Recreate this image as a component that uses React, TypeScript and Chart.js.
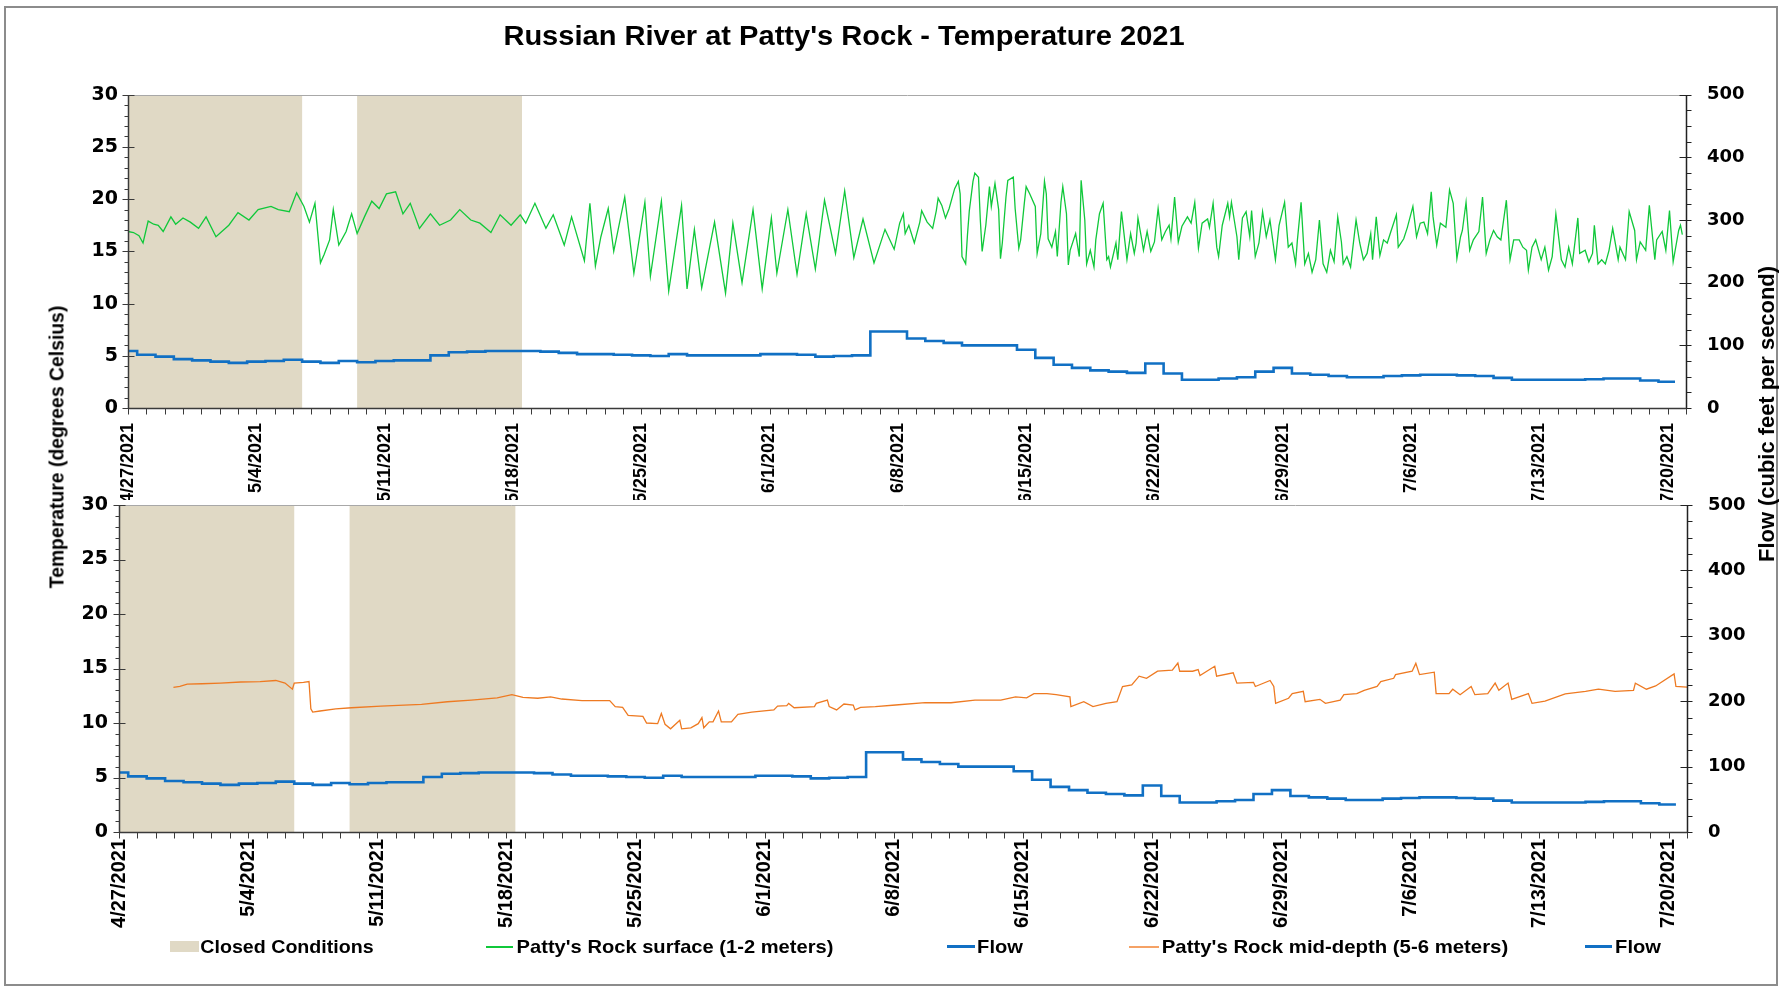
import React, { useEffect, useLayoutEffect, useRef, useState } from 'react';
import { Chart, registerables } from 'chart.js';

Chart.register(...registerables);

const W = 1792;
const H = 989;

// ---------- DATA (x = days since 4/27/2021 00:00) ----------
const xTickDays = [0, 7, 14, 21, 28, 35, 42, 49, 56, 63, 70, 77, 84];
const xTickLabels = ['4/27/2021', '5/4/2021', '5/11/2021', '5/18/2021', '5/25/2021', '6/1/2021', '6/8/2021', '6/15/2021', '6/22/2021', '6/29/2021', '7/6/2021', '7/13/2021', '7/20/2021'];
const xMaxDay = 85;

const tempMin = 0;
const tempMax = 30;
const tempStep = 5;
const flowMin = 0;
const flowMax = 500;
const flowStep = 100;

const closedStartDays = [0, 12.5];
const closedEndDays = [9.5, 21.5];

// Patty's Rock surface (1-2 meters), [day, degC]
const surfaceReadings: [number, number][] = [
  [0, 16.9], [0.3, 16.8], [0.6, 16.5], [0.82, 15.8], [1.1, 17.9], [1.4, 17.6], [1.65, 17.5], [1.92, 16.9], [2.34, 18.3], [2.6, 17.6],
  [3.0, 18.2], [3.4, 17.8], [3.85, 17.2], [4.26, 18.3], [4.8, 16.4], [5.5, 17.5], [6.0, 18.7], [6.6, 18.0], [7.1, 19.0], [7.8, 19.3],
  [8.2, 19.0], [8.8, 18.8], [9.2, 20.6], [9.6, 19.3], [9.9, 17.8], [10.2, 19.6], [10.5, 13.9], [10.7, 14.7], [11.0, 16.1], [11.2, 19.0],
  [11.5, 15.6], [11.9, 16.9], [12.2, 18.6], [12.5, 16.7], [12.9, 18.3], [13.3, 19.8], [13.7, 19.1], [14.1, 20.5], [14.6, 20.7], [15.0, 18.6],
  [15.4, 19.6], [15.9, 17.2], [16.5, 18.6], [17.0, 17.5], [17.6, 18.0], [18.1, 19.0], [18.7, 18.0], [19.2, 17.7], [19.8, 16.8], [20.3, 18.5],
  [20.9, 17.5], [21.4, 18.5], [21.7, 17.7], [22.2, 19.6], [22.8, 17.2], [23.2, 18.5], [23.8, 15.6], [24.2, 18.3], [24.9, 14.1], [25.2, 19.6],
  [25.5, 13.6], [25.8, 16.4], [26.2, 19.1], [26.5, 15.0], [27.1, 20.2], [27.6, 12.9], [28.2, 19.7], [28.5, 12.6], [29.1, 19.8], [29.5, 11.2],
  [30.2, 19.4], [30.5, 11.4], [30.9, 17.1], [31.3, 11.5], [32.0, 17.8], [32.6, 11.0], [33.0, 17.7], [33.5, 12.0], [34.1, 19.0], [34.6, 11.4],
  [35.1, 18.2], [35.4, 12.9], [36.0, 19.0], [36.5, 12.8], [37.0, 18.6], [37.5, 13.3], [38.0, 19.9], [38.6, 14.8], [39.1, 20.8], [39.6, 14.4],
  [40.1, 18.1], [40.7, 13.9], [41.3, 17.1], [41.8, 15.2],
  [42.1, 17.7], [42.3, 18.6], [42.4, 16.7], [42.6, 17.5], [42.9, 15.8], [43.2, 17.8], [43.3, 18.9], [43.6, 17.8], [43.9, 17.2], [44.1, 18.9],
  [44.2, 20.1], [44.4, 19.4], [44.6, 18.2], [44.8, 19.1], [45.1, 21.0], [45.3, 21.7], [45.4, 20.5], [45.5, 14.5], [45.7, 13.8], [45.8, 16.6],
  [45.9, 18.9], [46.1, 21.7], [46.2, 22.5], [46.4, 22.1], [46.5, 18.0], [46.6, 15.0], [46.8, 17.5], [47.0, 21.2], [47.1, 19.3], [47.3, 21.5],
  [47.5, 19.0], [47.6, 14.3], [47.7, 15.8], [47.9, 20.2], [48.0, 21.8], [48.3, 22.1], [48.4, 19.1], [48.6, 15.3], [48.7, 16.1], [48.9, 19.6],
  [49.0, 21.2], [49.2, 20.5], [49.5, 19.3], [49.6, 14.8], [49.8, 16.7], [50.0, 21.7], [50.1, 20.5], [50.2, 16.2], [50.4, 15.4], [50.6, 16.9],
  [50.7, 14.5], [50.9, 19.7], [51.0, 21.2], [51.2, 18.6], [51.3, 13.7], [51.4, 15.1], [51.7, 16.7], [51.9, 14.5], [52.0, 21.8], [52.2, 18.0],
  [52.3, 13.8], [52.5, 15.1], [52.7, 13.5], [52.8, 16.1], [53.0, 18.6], [53.2, 19.6], [53.4, 14.2], [53.5, 14.5], [53.6, 13.5], [53.9, 15.8],
  [54.0, 14.2], [54.2, 18.8], [54.3, 17.3], [54.5, 14.2], [54.7, 16.7], [54.9, 14.8], [55.0, 15.8], [55.1, 18.2], [55.3, 16.2], [55.4, 15.1],
  [55.6, 16.9], [55.8, 15.0], [56.0, 15.9], [56.2, 19.1], [56.4, 16.1], [56.6, 16.9], [56.8, 17.5], [56.9, 16.2], [57.1, 20.2], [57.3, 15.9],
  [57.5, 17.4], [57.8, 18.3], [58.0, 17.7], [58.2, 19.7], [58.4, 15.3], [58.6, 17.7], [58.9, 18.1], [59.0, 17.3], [59.2, 19.6], [59.4, 15.4],
  [59.5, 14.5], [59.7, 17.5], [60.0, 19.6], [60.1, 18.3], [60.2, 19.7], [60.5, 16.4], [60.6, 14.2], [60.8, 18.2], [61.0, 18.8], [61.2, 16.4],
  [61.3, 18.9], [61.5, 14.5], [61.7, 15.8], [61.9, 18.8], [62.1, 16.4], [62.3, 18.0], [62.6, 14.2], [62.8, 17.5], [63.1, 19.7], [63.3, 15.4],
  [63.5, 15.8], [63.7, 13.8], [63.8, 16.1], [64.0, 19.7], [64.2, 13.8], [64.4, 14.8], [64.6, 13.0], [64.8, 14.2], [65.0, 18.0], [65.2, 13.8],
  [65.4, 13.0], [65.6, 15.1], [65.8, 14.0], [66.0, 18.3], [66.2, 15.9], [66.3, 13.8], [66.5, 14.5], [66.7, 13.5], [67.0, 18.0], [67.2, 15.8],
  [67.4, 14.2], [67.6, 14.8], [67.8, 16.7], [67.9, 14.2], [68.1, 18.3], [68.3, 14.6], [68.5, 16.1], [68.7, 15.8], [68.9, 16.9], [69.2, 18.5],
  [69.3, 15.4], [69.6, 16.2], [69.8, 17.3], [70.1, 19.3], [70.3, 16.4], [70.5, 17.7], [70.7, 17.8], [70.9, 16.7], [71.1, 20.7], [71.2, 18.3],
  [71.4, 15.6], [71.6, 17.7], [71.9, 17.3], [72.1, 20.9], [72.3, 19.6], [72.5, 14.3], [72.7, 16.4], [72.8, 17.0], [73.0, 19.7], [73.2, 15.1],
  [73.4, 16.1], [73.7, 16.9], [73.9, 20.2], [74.1, 14.8], [74.3, 16.1], [74.5, 17.0], [74.7, 16.4], [74.9, 16.1], [75.2, 19.9], [75.4, 14.2],
  [75.6, 16.1], [75.9, 16.1], [76.1, 15.4], [76.3, 15.1], [76.4, 13.2], [76.6, 15.4], [76.8, 16.1], [77.1, 14.2], [77.3, 15.4], [77.5, 13.2],
  [77.7, 14.5], [77.9, 18.6], [78.2, 14.2], [78.4, 13.5], [78.6, 15.4], [78.8, 13.8], [79.1, 18.2], [79.2, 14.8], [79.5, 15.1], [79.7, 14.0],
  [79.9, 14.8], [80.0, 17.5], [80.2, 13.8], [80.4, 14.2], [80.6, 13.8], [80.8, 15.1], [81.0, 17.2], [81.3, 14.2], [81.4, 15.4], [81.7, 14.2],
  [81.9, 18.8], [82.2, 17.0], [82.3, 14.2], [82.5, 15.9], [82.8, 15.1], [83.0, 19.4], [83.3, 14.2], [83.4, 16.1], [83.7, 16.9], [83.9, 15.1],
  [84.1, 18.9], [84.3, 14.0], [84.6, 17.0], [84.7, 17.5], [84.8, 16.6],
];

// Patty's Rock mid-depth (5-6 meters), [day, degC]
const midDepthReadings: [number, number][] = [
  [2.95, 13.26], [3.3, 13.35], [3.7, 13.57], [4.5, 13.6], [5.5, 13.66], [6.6, 13.76], [7.65, 13.79], [8.5, 13.9], [9.0, 13.66], [9.4, 13.1],
  [9.5, 13.66], [10.0, 13.73], [10.3, 13.8], [10.4, 11.3], [10.5, 11.0], [10.9, 11.1], [11.75, 11.3], [12.6, 11.4], [14.2, 11.55], [16.4, 11.7],
  [17.8, 11.95], [19.1, 12.1], [20.5, 12.3], [21.3, 12.6], [21.9, 12.36], [22.7, 12.27], [23.4, 12.4], [24.0, 12.2], [25.1, 12.05], [26.6, 12.05],
  [26.9, 11.5], [27.3, 11.43], [27.6, 10.7], [28.4, 10.6], [28.6, 10.0], [29.2, 9.94], [29.4, 10.87], [29.6, 9.88], [29.9, 9.47], [30.4, 10.25],
  [30.5, 9.47], [31.0, 9.56], [31.4, 9.94], [31.6, 10.5], [31.7, 9.56], [32.0, 10.1], [32.2, 10.1], [32.5, 11.1], [32.65, 10.1], [33.2, 10.1],
  [33.55, 10.8], [34.3, 11.0], [35.5, 11.2], [35.7, 11.55], [36.2, 11.6], [36.3, 11.8], [36.6, 11.4], [37.7, 11.5], [37.8, 11.8], [38.4, 12.1],
  [38.5, 11.5], [38.9, 11.2], [39.3, 11.74], [39.8, 11.65], [39.9, 11.2], [40.2, 11.43], [41.0, 11.5], [42.1, 11.65], [43.7, 11.86], [45.1, 11.86],
  [46.4, 12.1], [47.8, 12.1], [48.6, 12.4], [49.2, 12.3], [49.6, 12.7], [50.3, 12.7], [50.8, 12.6], [51.55, 12.4], [51.6, 11.5], [52.3, 11.96],
  [52.8, 11.5], [53.5, 11.8], [54.1, 11.96], [54.4, 13.35], [54.9, 13.5], [55.3, 14.3], [55.7, 14.1], [56.3, 14.75], [57.1, 14.85], [57.4, 15.5],
  [57.5, 14.75], [58.2, 14.75], [58.5, 14.9], [58.6, 14.35], [59.4, 15.2], [59.5, 14.3], [60.4, 14.6], [60.6, 13.66], [61.5, 13.73], [61.6, 13.35],
  [62.4, 13.9], [62.6, 13.35], [62.7, 11.8], [63.4, 12.27], [63.6, 12.7], [64.2, 12.9], [64.3, 11.96], [65.1, 12.17], [65.4, 11.8], [66.2, 12.1],
  [66.4, 12.6], [67.1, 12.7], [67.5, 13.0], [68.2, 13.35], [68.4, 13.8], [69.1, 14.1], [69.2, 14.44], [70.1, 14.75], [70.3, 15.47], [70.5, 14.44],
  [71.3, 14.66], [71.4, 12.7], [72.1, 12.7], [72.3, 13.1], [72.7, 12.6], [73.3, 13.35], [73.5, 12.6], [74.2, 12.7], [74.6, 13.66], [74.8, 13.0],
  [75.3, 13.66], [75.5, 12.17], [76.4, 12.7], [76.6, 11.8], [77.3, 12.0], [78.4, 12.67], [79.5, 12.9], [80.2, 13.1], [81.1, 12.9], [82.1, 13.0],
  [82.2, 13.66], [82.8, 13.1], [83.3, 13.4], [84.3, 14.5], [84.4, 13.35], [85.0, 13.3],
];

// Daily flow (cfs), one value per day starting 4/27/2021
const flowDaily = [
  91, 85, 82, 78, 76, 74, 72, 74, 75, 77,
  74, 72, 75, 73, 75, 76, 76, 84, 89, 90,
  91, 91, 91, 90, 88, 86, 86, 85, 84, 83,
  86, 84, 84, 84, 84, 86, 86, 85, 82, 83,
  84, 122, 122, 111, 107, 104, 100, 100, 100, 93,
  80, 69, 64, 60, 58, 56, 71, 55, 45, 45,
  47, 49, 58, 64, 55, 53, 51, 49, 49, 51,
  52, 53, 53, 52, 51, 48, 45, 45, 45, 45,
  46, 47, 47, 44, 42,
];
const flowLastReadingDay = 84.4;

// ---------- STYLE ----------
const SHADE = 'rgb(224,217,197)';
const GREEN = '#10C83A';
const ORANGE = '#EE7A22';
const BLUE = '#1170C4';
const AXIS = '#3a3a3a';

type Panel = {
  left: number; right: number; top: number; bottom: number; xBoxBottom: number;
  labelSize: number; labelPad: number; leftPad: number;
  series: [number, number][]; color: string; label: string;
};

const topPanel: Panel = {
  left: 128, right: 1686, top: 94.7, bottom: 408, xBoxBottom: 500,
  labelSize: 18, labelPad: 15, leftPad: 10,
  series: surfaceReadings, color: GREEN, label: "Patty's Rock surface (1-2 meters)",
};
const bottomPanel: Panel = {
  left: 119, right: 1687, top: 505, bottom: 832, xBoxBottom: 989,
  labelSize: 20, labelPad: 7, leftPad: 11,
  series: midDepthReadings, color: ORANGE, label: "Patty's Rock mid-depth (5-6 meters)",
};

const axesPlugin = {
  id: 'axesPlugin',
  afterDraw(chart: any) {
    const { ctx, chartArea: a, scales } = chart;
    const xs = scales.x, ys = scales.y, y1s = scales.y1;
    const snap = (v: number) => Math.round(v) + 0.5;
    const seg = (x1: number, y1: number, x2: number, y2: number, color: string, w: number) => {
      ctx.beginPath();
      ctx.strokeStyle = color;
      ctx.lineWidth = w;
      ctx.moveTo(x1, y1);
      ctx.lineTo(x2, y2);
      ctx.stroke();
    };
    ctx.save();
    const L = snap(a.left), R = snap(a.right), T = snap(a.top), B = snap(a.bottom);
    // plot area top border
    seg(L, T, R, T, '#a8a8a8', 1);
    // left axis + ticks
    seg(L, T - 0.5, L, B + 0.5, AXIS, 1.5);
    for (let v = tempMin; v <= tempMax; v += 1) {
      const py = snap(ys.getPixelForValue(v));
      const major = v % tempStep === 0;
      seg(L - (major ? 6 : 4), py, L + (major ? 6 : 0), py, AXIS, 1);
    }
    // right axis + ticks
    seg(R, T - 0.5, R, B + 0.5, '#222', 1.5);
    for (let v = flowMin; v <= flowMax; v += 25) {
      const py = snap(y1s.getPixelForValue(v));
      const major = v % flowStep === 0;
      seg(R - (major ? 7 : 0), py, R + 5, py, '#222', 1);
    }
    // bottom axis + daily ticks
    seg(L, B, R, B, AXIS, 1.5);
    for (let d = 0; d <= xMaxDay; d += 1) {
      const px = snap(xs.getPixelForValue(d));
      seg(px, B, px, B + 6, AXIS, 1);
    }
    ctx.restore();
  },
};

function buildConfig(p: Panel): any {
  const shade: { x: number; y: number }[] = [];
  closedStartDays.forEach((s, i) => {
    const e = closedEndDays[i];
    shade.push({ x: s, y: tempMin }, { x: s, y: tempMax }, { x: e, y: tempMax }, { x: e, y: tempMin });
  });
  const flowPts = flowDaily.map((v, i) => ({ x: i, y: v }));
  flowPts.push({ x: flowLastReadingDay, y: flowDaily[flowDaily.length - 1] });
  const tempPts = p.series.map(([d, t]) => ({ x: d, y: t }));

  return {
    type: 'line',
    data: {
      datasets: [
        { label: 'Closed Conditions', data: shade, yAxisID: 'y', borderWidth: 0, borderColor: 'rgba(0,0,0,0)', backgroundColor: SHADE, fill: 'origin', pointRadius: 0, order: 10 },
        { label: p.label, data: tempPts, yAxisID: 'y', borderColor: p.color, borderWidth: 1.3, pointRadius: 0, fill: false, order: 2 },
        { label: 'Flow', data: flowPts, yAxisID: 'y1', borderColor: BLUE, borderWidth: 2.6, pointRadius: 0, fill: false, stepped: 'middle', order: 1 },
      ],
    },
    options: {
      responsive: false,
      animation: false,
      events: [],
      layout: { padding: { left: 0, right: 0, top: p.top, bottom: H - p.xBoxBottom } },
      plugins: { legend: { display: false }, tooltip: { enabled: false }, title: { display: false } },
      scales: {
        x: {
          type: 'linear', position: 'bottom', min: 0, max: xMaxDay,
          grid: { display: false, drawTicks: false }, border: { display: false },
          afterBuildTicks: (s: any) => { s.ticks = xTickDays.map((v) => ({ value: v })); },
          afterFit: (s: any) => { s.height = p.xBoxBottom - p.bottom; },
          ticks: {
            autoSkip: false, minRotation: 90, maxRotation: 90, padding: p.labelPad, color: '#000',
            font: { family: "'Liberation Sans', Arial, sans-serif", weight: 'bold', size: p.labelSize },
            callback: (_v: any, i: number) => xTickLabels[i],
          },
        },
        y: {
          type: 'linear', position: 'left', min: tempMin, max: tempMax,
          grid: { display: false, drawTicks: false }, border: { display: false },
          afterFit: (s: any) => { s.width = p.left; },
          ticks: { stepSize: tempStep, padding: p.leftPad, color: '#000', font: { family: "'DejaVu Sans', sans-serif", weight: 'bold', size: 19 } },
        },
        y1: {
          type: 'linear', position: 'right', min: flowMin, max: flowMax,
          grid: { display: false, drawTicks: false }, border: { display: false },
          afterFit: (s: any) => { s.width = W - p.right; },
          ticks: { stepSize: flowStep, padding: 21, color: '#000', font: { family: "'DejaVu Sans', sans-serif", weight: 'bold', size: 18 } },
        },
      },
    },
    plugins: [axesPlugin],
  };
}

function ChartCanvas({ panel }: { panel: Panel }) {
  const ref = useRef<HTMLCanvasElement>(null);
  useEffect(() => {
    if (!ref.current) return;
    const chart = new Chart(ref.current, buildConfig(panel));
    return () => chart.destroy();
  }, [panel]);
  return <canvas ref={ref} width={W} height={H} style={{ position: 'absolute', left: 0, top: 0, width: W, height: H }} />;
}

function FitText({ text, cx, cy, width, font, rotate = false }: { text: string; cx: number; cy: number; width: number; font: string; rotate?: boolean }) {
  const ref = useRef<HTMLDivElement>(null);
  const [sx, setSx] = useState(1);
  useLayoutEffect(() => {
    const measure = () => {
      if (ref.current) {
        const w = ref.current.offsetWidth;
        if (w > 0) setSx(width / w);
      }
    };
    measure();
    (document as any).fonts?.ready?.then(measure);
  }, [text, width, font]);
  return (
    <div
      ref={ref}
      style={{
        position: 'absolute', left: cx, top: cy, whiteSpace: 'nowrap', font, lineHeight: 1, color: '#000',
        transform: `translate(-50%, -50%) ${rotate ? 'rotate(-90deg)' : ''} scaleX(${sx})`,
      }}
    >
      {text}
    </div>
  );
}

const LEGEND_FONT = "bold 19px 'Liberation Sans', Arial, sans-serif";
const LEGEND_Y = 946.3;

function LegendLine({ x1, x2, color, w }: { x1: number; x2: number; color: string; w: number }) {
  return <div style={{ position: 'absolute', left: x1, top: LEGEND_Y + 0.5 - w / 2, width: x2 - x1, height: w, background: color }} />;
}

export default function App() {
  return (
    <div style={{ position: 'absolute', left: 0, top: 0, width: W, height: H, background: '#fff', overflow: 'hidden' }}>
      <div style={{ position: 'absolute', left: 4, top: 6, width: 1774, height: 980, border: '2px solid #8c8c8c', boxSizing: 'border-box' }} />
      <ChartCanvas panel={topPanel} />
      <ChartCanvas panel={bottomPanel} />
      <FitText text="Russian River at Patty's Rock - Temperature 2021" cx={843.5} cy={35.9} width={681} font="bold 27px 'Liberation Sans', Arial, sans-serif" />
      <FitText text="Temperature (degrees Celsius)" cx={56} cy={447} width={283} font="bold 21px 'Liberation Sans', Arial, sans-serif" rotate />
      <FitText text="Flow (cubic feet per second)" cx={1767} cy={414} width={296} font="bold 22px 'Liberation Sans', Arial, sans-serif" rotate />

      <div style={{ position: 'absolute', left: 170, top: 940.7, width: 28.7, height: 11.3, background: SHADE }} />
      <FitText text="Closed Conditions" cx={200.5 + 173.5 / 2} cy={LEGEND_Y} width={173.5} font={LEGEND_FONT} />
      <LegendLine x1={485.7} x2={513.3} color={GREEN} w={2} />
      <FitText text="Patty's Rock surface (1-2 meters)" cx={517 + 316.6 / 2} cy={LEGEND_Y} width={316.6} font={LEGEND_FONT} />
      <LegendLine x1={946.7} x2={975} color={BLUE} w={3} />
      <FitText text="Flow" cx={977 + 45.5 / 2} cy={LEGEND_Y} width={45.5} font={LEGEND_FONT} />
      <LegendLine x1={1129} x2={1159} color="#F5A266" w={2} />
      <FitText text="Patty's Rock mid-depth (5-6 meters)" cx={1161.7 + 346 / 2} cy={LEGEND_Y} width={346} font={LEGEND_FONT} />
      <LegendLine x1={1584.5} x2={1612} color={BLUE} w={3} />
      <FitText text="Flow" cx={1615.7 + 45.5 / 2} cy={LEGEND_Y} width={45.5} font={LEGEND_FONT} />
    </div>
  );
}
